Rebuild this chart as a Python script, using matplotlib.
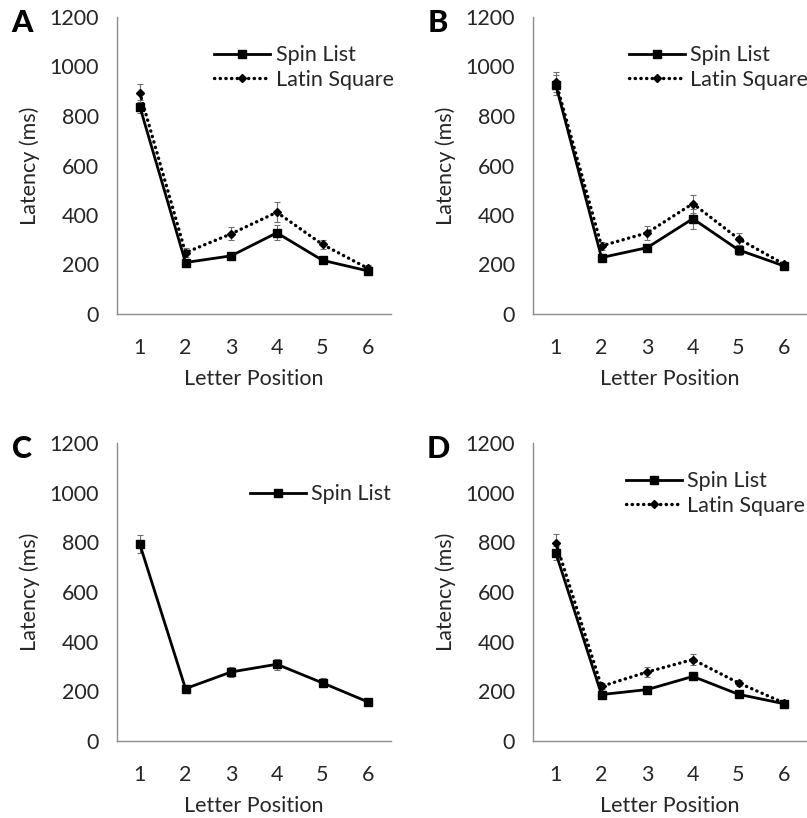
import numpy as np
import matplotlib
matplotlib.use("Agg")
import matplotlib.pyplot as plt
from matplotlib.lines import Line2D

plt.rcParams['font.family'] = ['Lato', 'DejaVu Sans']

positions = [1, 2, 3, 4, 5, 6]

# panel A
spin_a = [838, 208, 235, 328, 217, 174]
spin_a_err = [27, 10, 10, 30, 10, 12]
latin_a = [894, 248, 324, 411, 281, 184]
latin_a_err = [37, 18, 27, 40, 20, 12]

# panel B
spin_b = [925, 228, 268, 385, 259, 194]
spin_b_err = [40, 12, 14, 40, 20, 10]
latin_b = [938, 275, 328, 446, 304, 201]
latin_b_err = [40, 15, 27, 36, 24, 10]

# panel C (only spin list)
spin_c = [792, 211, 278, 309, 234, 157]
spin_c_err = [36, 8, 20, 22, 18, 8]

# panel D
spin_d = [757, 187, 207, 260, 188, 150]
spin_d_err = [30, 10, 10, 14, 8, 8]
latin_d = [799, 220, 278, 328, 234, 153]
latin_d_err = [36, 12, 22, 22, 12, 8]

panels = [
    ("A", [117, 17, 391, 314], (spin_a, spin_a_err), (latin_a, latin_a_err), (0.355, 0.905)),
    ("B", [533, 17, 807, 314], (spin_b, spin_b_err), (latin_b, latin_b_err), (0.350, 0.905)),
    ("C", [117, 443, 391, 741], (spin_c, spin_c_err), None, (0.485, 0.862)),
    ("D", [533, 443, 807, 741], (spin_d, spin_d_err), (latin_d, latin_d_err), (0.338, 0.905)),
]

W, H = 807, 818
fig = plt.figure(figsize=(W / 100, H / 100), dpi=100)

axis_grey = '#8c8c8c'
text_col = '#262626'
fs = 15.5
dots = (0, (0.1, 1.6))

spin_style = dict(color='black', lw=2.0, marker='s', ms=6)
latin_style = dict(color='black', lw=2.4, ls=dots, dash_capstyle='round',
                   marker='D', ms=4.5)

for letter, (x0, y0, x1, y1), spin, latin, leg_pos in panels:
    ax = fig.add_axes([x0 / W, 1 - y1 / H, (x1 - x0) / W, (y1 - y0) / H])
    ax.errorbar(positions, spin[0], yerr=spin[1], ecolor='#6e6e6e',
                elinewidth=0.8, capsize=2.5, capthick=0.8, zorder=3, **spin_style)
    handles = [Line2D([], [], **spin_style)]
    labels = ['Spin List']
    if latin is not None:
        ax.errorbar(positions, latin[0], yerr=latin[1], ecolor='#6e6e6e',
                    elinewidth=0.8, capsize=2.5, capthick=0.8, zorder=3,
                    **latin_style)
        handles.append(Line2D([], [], **latin_style))
        labels.append('Latin Square')
    ax.set_xlim(0.5, 6.5)
    ax.set_ylim(0, 1200)
    ax.set_xticks(positions)
    ax.set_yticks(np.arange(0, 1201, 200))
    for s in ['top', 'right']:
        ax.spines[s].set_visible(False)
    for s in ['left', 'bottom']:
        ax.spines[s].set_color(axis_grey)
        ax.spines[s].set_linewidth(1.0)
    ax.tick_params(length=0, labelsize=fs, colors=text_col)
    ax.tick_params(axis='x', pad=17)
    ax.tick_params(axis='y', pad=13)
    ax.set_xlabel('Letter Position', fontsize=fs, color=text_col, labelpad=8)
    ax.set_ylabel('Latency (ms)', fontsize=fs, color=text_col, labelpad=7)
    leg = ax.legend(handles, labels, loc='upper left', bbox_to_anchor=leg_pos,
                    frameon=False, fontsize=fs, handlelength=2.6,
                    handletextpad=0.25, borderpad=0, borderaxespad=0,
                    labelspacing=0.2, markerscale=1.0)
    for t in leg.get_texts():
        t.set_color(text_col)
    ax.text((x0 - 95) / W, 1 - (y0 + 6) / H, letter, transform=fig.transFigure,
            fontsize=22, fontweight='black', ha='center', va='center')

fig.savefig('out.png', dpi=100)
